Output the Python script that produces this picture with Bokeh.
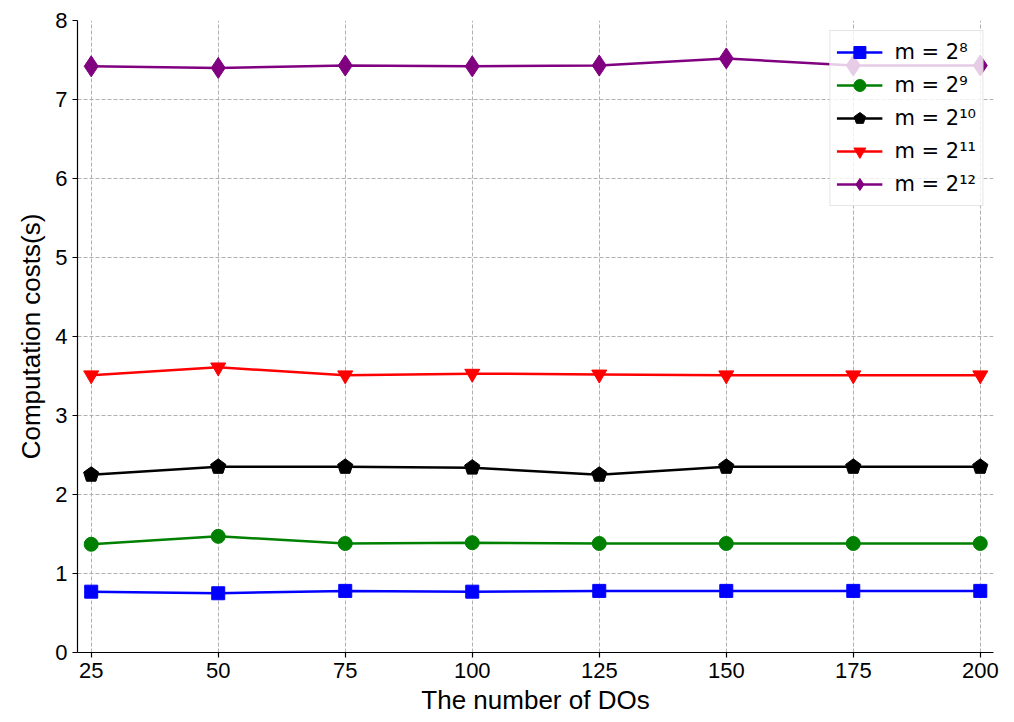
from bokeh.plotting import figure
from bokeh.models import FixedTicker, Legend, LegendItem, Range1d
from bokeh.embed import file_html
from bokeh.resources import INLINE

dos = [25, 50, 75, 100, 125, 150, 175, 200]
m8 = [0.77, 0.75, 0.78, 0.77, 0.78, 0.78, 0.78, 0.78]
m9 = [1.37, 1.47, 1.38, 1.39, 1.38, 1.38, 1.38, 1.38]
m10 = [2.25, 2.35, 2.35, 2.34, 2.25, 2.35, 2.35, 2.35]
m11 = [3.51, 3.61, 3.51, 3.53, 3.52, 3.51, 3.51, 3.51]
m12 = [7.42, 7.40, 7.43, 7.42, 7.43, 7.52, 7.43, 7.43]
labels = ["m = 2\u2078", "m = 2\u2079", "m = 2\u00b9\u2070", "m = 2\u00b9\u00b9", "m = 2\u00b9\u00b2"]
x_ticks = [25, 50, 75, 100, 125, 150, 175, 200]
y_ticks = [0, 1, 2, 3, 4, 5, 6, 7, 8]

p = figure(width=1006, height=714, output_backend="svg", toolbar_location=None,
           x_range=Range1d(22.3, 202.6), y_range=Range1d(0, 8),
           min_border_left=77, min_border_right=13, min_border_top=20, min_border_bottom=62)
p.frame_width = 916
p.frame_height = 632
p.outline_line_color = None
p.background_fill_color = "white"

font = "Liberation Sans"
for ax in (p.xaxis[0], p.yaxis[0]):
    ax.axis_line_color = "black"
    ax.axis_line_width = 1.2
    ax.major_tick_line_color = "black"
    ax.major_tick_line_width = 1.2
    ax.major_tick_out = 5
    ax.major_tick_in = 0
    ax.minor_tick_line_color = None
    ax.major_label_text_font = font
    ax.major_label_text_font_size = "22px"
    ax.major_label_text_color = "black"
    ax.axis_label_text_font = font
    ax.axis_label_text_font_size = "26px"
    ax.axis_label_text_font_style = "normal"
    ax.axis_label_text_color = "black"

p.xaxis.ticker = FixedTicker(ticks=x_ticks)
p.yaxis.ticker = FixedTicker(ticks=y_ticks)
p.xaxis.axis_label = "The number of DOs"
p.yaxis.axis_label = "Computation costs(s)"
p.xaxis.axis_label_standoff = 4
p.yaxis.axis_label_standoff = 6

for g in (p.xgrid[0], p.ygrid[0]):
    g.grid_line_color = "#b0b0b0"
    g.grid_line_dash = "4 2"
    g.grid_line_width = 1

items = []
specs = [
    (m8, "#0000ff", "square", 13),
    (m9, "#008000", "circle", 14),
    (m10, "#000000", "pentagon", 8),
    (m11, "#ff0000", "inverted_triangle", 15),
    (m12, "#800080", "diamond", 21),
]
for (vals, color, marker, size), lab in zip(specs, labels):
    ln = p.line(dos, vals, line_color=color, line_width=2.5)
    if marker == "pentagon":
        mk = p.ngon(dos, vals, radius=size, radius_units="screen", n=5,
                    fill_color=color, line_color=color)
    else:
        mk = p.scatter(dos, vals, marker=marker, size=size,
                       fill_color=color, line_color=color)
    items.append(LegendItem(label=lab, renderers=[ln, mk]))

legend = Legend(items=items, location="top_right")
legend.label_text_font = "DejaVu Sans"
legend.label_text_font_size = "21px"
legend.label_text_color = "black"
legend.glyph_width = 46
legend.glyph_height = 30
legend.label_height = 30
legend.spacing = 3
legend.padding = 6
legend.margin = 10
legend.label_standoff = 12
legend.background_fill_alpha = 0.8
legend.border_line_color = "#cccccc"
legend.border_line_width = 1
p.add_layout(legend, "center")

open("out.html", "w").write(file_html(p, INLINE))
